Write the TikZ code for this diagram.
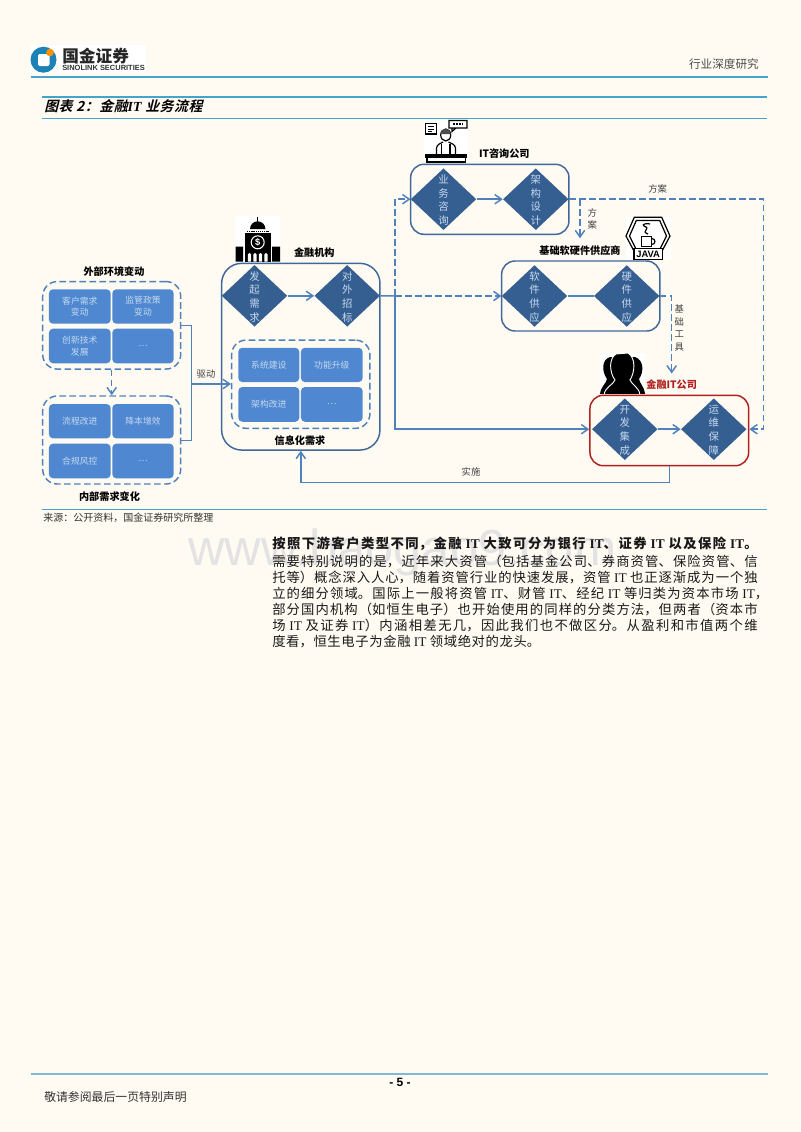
\documentclass[tikz,border=0pt]{standalone}
\usepackage{fontspec}
\setmainfont{Noto Sans CJK SC}
\newfontfamily\latin{Liberation Serif}
\newfontfamily\latinsans{Liberation Sans}
\newfontfamily\slantfont[FakeSlant=0.25,LetterSpace=4]{Noto Sans CJK SC Bold}
\usetikzlibrary{shapes.geometric,arrows.meta}
\XeTeXlinebreaklocale "zh"
\XeTeXlinebreakskip=0pt plus 2pt
\def\px{0.75pt}
\definecolor{pagebg}{HTML}{FFFBF2}
\definecolor{rulecol}{HTML}{45A3CC}
\definecolor{footcol}{HTML}{7FBAD0}
\definecolor{diacol}{HTML}{365F91}
\definecolor{cellcol}{HTML}{4F88D0}
\definecolor{linecol}{HTML}{4F81BD}
\definecolor{boxcol}{HTML}{41689A}
\definecolor{celltext}{HTML}{C5D9F1}
\definecolor{redcol}{HTML}{B02020}
\definecolor{logocol}{HTML}{1B82B5}
\tikzset{
  flowdia/.style={diamond, fill=diacol, inner sep=0pt, minimum width=65.6*\px, minimum height=61.7*\px},
  diatext/.style={align=center, text=celltext, font=\fontsize{7.8}{10.3}\selectfont, inner sep=0pt, yshift=-0.7pt},
  cellbox/.style={rectangle, rounded corners=3pt, fill=cellcol, text=celltext, align=center, inner sep=0pt, font=\fontsize{6.6}{8.8}\selectfont},
  groupbox/.style={rectangle, rounded corners=11pt, draw=linecol, line width=1.1pt, dash pattern=on 5pt off 2.5pt},
  solidbox/.style={rectangle, draw=boxcol, line width=1.1pt},
  plainline/.style={draw=linecol, line width=1.1pt},
  solidline/.style={plainline, -{Straight Barb[length=5pt,width=7pt]}},
  dashline/.style={solidline, dash pattern=on 5pt off 2.5pt},
  headtext/.style={font=\fontsize{7.6}{9}\bfseries\selectfont, inner sep=0pt},
  plaintext/.style={font=\fontsize{7}{9}\selectfont, text=black!75, inner sep=0pt},
  iconline/.style={black, line width=0.9pt},
}
\newcommand{\bodyline}[2][364pt]{{\hsize=#1\parfillskip=0pt\noindent #2\par}}
\newcommand{\IT}{{\latin IT}}
\newcommand{\ITb}{{\latin\bfseries IT}}
\begin{document}
\begin{tikzpicture}[x=\px, y=-\px]
\useasboundingbox (0,0) rectangle (800,1132);
\fill[pagebg] (0,0) rectangle (800,1132);

% watermark
\node (wmark) [anchor=west, inner sep=0pt, text=black!11, font=\latinsans\fontsize{38}{40}\selectfont] at (188,552) {www.baogao9.com};

% page head
\fill[white] (30,45) rectangle (146,73);
\fill[logocol] (43.5,59.7) circle (13);
\fill[white, rounded corners=1.5pt] (38,54) rectangle (49.5,66);
\fill[orange!85!yellow] (50,52.5) circle (3.8);
\node (logocn) [anchor=west, inner sep=0pt, font=\fontsize{12.5}{13}\bfseries\selectfont, text=black!85] at (62,56) {国金证券};
\node (logoen) [anchor=west, inner sep=0pt, font=\latinsans\fontsize{5.6}{6}\bfseries\selectfont, text=black!80] at (62,68) {SINOLINK SECURITIES};
\node (sector) [anchor=east, inner sep=0pt, font=\fontsize{8.7}{10}\selectfont, text=black!70] at (759,64) {行业深度研究};
\draw[rulecol, line width=1pt] (31,77) -- (768,77);
\draw[rulecol, line width=0.8pt] (42,97) -- (767,97);
\draw[rulecol, line width=0.8pt] (42,118.5) -- (767,118.5);
\node (title) [anchor=west, inner sep=0pt, font=\slantfont\fontsize{10.4}{12}\selectfont] at (44,106) {图表 2：金融{\latin\bfseries\itshape IT} 业务流程};

% left groups
\node (envbox) [groupbox, minimum width=138*\px, minimum height=87.5*\px] at (111.7,325.3) {};
\node (reqbox) [groupbox, minimum width=138*\px, minimum height=88*\px] at (111.7,440) {};
\node (envlabel) [headtext] at (114,271.7) {外部环境变动};
\node (reqlabel) [headtext] at (109.5,497) {内部需求变化};
\node (kehu) [cellbox, minimum width=61.7*\px, minimum height=34.4*\px] at (79.8,306.5) {客户需求\\变动};
\node (jianguan) [cellbox, minimum width=61.4*\px, minimum height=34.4*\px] at (143,306.5) {监管政策\\变动};
\node (chuangxin) [cellbox, minimum width=61.7*\px, minimum height=34.6*\px] at (79.8,346) {创新技术\\发展};
\node (dotsa) [cellbox, minimum width=61.4*\px, minimum height=34.6*\px] at (143,346) {…};
\node (liucheng) [cellbox, minimum width=61.7*\px, minimum height=34.3*\px] at (79.8,421.2) {流程改进};
\node (jiangben) [cellbox, minimum width=61.4*\px, minimum height=34.3*\px] at (143,421.2) {降本增效};
\node (hegui) [cellbox, minimum width=61.7*\px, minimum height=34.6*\px] at (79.8,461) {合规风控};
\node (dotsb) [cellbox, minimum width=61.4*\px, minimum height=34.6*\px] at (143,461) {…};

% financial institution
\node (finbox) [solidbox, rounded corners=15pt, minimum width=158.3*\px, minimum height=186.7*\px] at (300.8,356.7) {};
\node (fadia) [flowdia] at (254.5,295.8) {};
\node (zhaodia) [flowdia] at (347.2,295.8) {};
\node at (fadia) [diatext] {发\\起\\需\\求};
\node at (zhaodia) [diatext] {对\\外\\招\\标};
\node (finlabel) [headtext] at (314.3,252.3) {金融机构};
\node (infobox) [groupbox, minimum width=138.3*\px, minimum height=88.3*\px] at (300.8,384.2) {};
\node (xitong) [cellbox, minimum width=61*\px, minimum height=34.3*\px] at (268.8,364.9) {系统建设};
\node (gongneng) [cellbox, minimum width=61.7*\px, minimum height=34.3*\px] at (331.8,364.9) {功能升级};
\node (jiagou) [cellbox, minimum width=61*\px, minimum height=34.7*\px] at (268.8,404.4) {架构改进};
\node (dotsc) [cellbox, minimum width=61.7*\px, minimum height=34.7*\px] at (331.8,404.4) {…};
\node (infolabel) [headtext] at (300,441) {信息化需求};

% consulting
\node (itbox) [solidbox, rounded corners=10pt, minimum width=158.3*\px, minimum height=70*\px] at (489.8,199.3) {};
\node (zixun) [flowdia] at (443.5,199.2) {};
\node (sheji) [flowdia] at (535.8,199.2) {};
\node at (zixun) [diatext] {业\\务\\咨\\询};
\node at (sheji) [diatext] {架\\构\\设\\计};
\node (itlabel) [headtext] at (504.3,153.3) {IT咨询公司};

% suppliers
\node (basebox) [solidbox, rounded corners=10pt, minimum width=158.3*\px, minimum height=70*\px] at (580.8,296) {};
\node (ruan) [flowdia] at (534.5,296) {};
\node (ying) [flowdia] at (626.7,296) {};
\node at (ruan) [diatext] {软\\件\\供\\应};
\node at (ying) [diatext] {硬\\件\\供\\应};
\node (baselabel) [headtext] at (580,250.3) {基础软硬件供应商};

% IT company
\node (redbox) [rectangle, draw=redcol, line width=1.1pt, rounded corners=10pt, minimum width=158.7*\px, minimum height=70.4*\px] at (669.3,430.5) {};
\node (kaifa) [flowdia] at (624.8,429.2) {};
\node (yunwei) [flowdia] at (713.8,429.2) {};
\node at (kaifa) [diatext] {开\\发\\集\\成};
\node at (yunwei) [diatext] {运\\维\\保\\障};
\node (redlabel) [headtext, text=redcol] at (671.7,384.7) {金融IT公司};

% side labels
\node (qudong) [plaintext] at (206,374) {驱动};
\node (shishi) [plaintext] at (471,471.7) {实施};
\node (fanga) [plaintext] at (657.7,189.3) {方案};
\node (fangb) [plaintext, align=center, font=\fontsize{7}{9.3}\selectfont] at (592.3,219) {方\\案};
\node (gongju) [plaintext, align=center, font=\fontsize{7}{9.4}\selectfont] at (679.3,328) {基\\础\\工\\具};

% connectors
\coordinate (drivein) at (191.7,384);
\draw[plainline] (envbox.east |- 0,325.7) -| (drivein);
\draw[plainline] (reqbox.east |- 0,440.3) -| (drivein);
\draw[solidline] (drivein) -- (infobox.west |- drivein);
\draw[dashline] (envbox.south -| 111.7,0) -- (reqbox.north -| 111.7,0);
\draw[solidline] (fadia.east) -- (zhaodia.west);
\draw[solidline] (zixun.east) -- (sheji.west);
\draw[plainline] (ruan.east) -- (ying.west);
\draw[solidline] (kaifa.east) -- (yunwei.west);
\coordinate (split) at (395,296);
\draw[plainline] (zhaodia.east) -- (split);
\draw[solidline] (split) |- (redbox.west |- kaifa);
\draw[dashline] (split) -- (ruan.west);
\draw[dashline] (split) |- (zixun.west);
\coordinate (fangturn) at (580,199.2);
\coordinate (fangend) at (580,238.3);
\draw[dashline] (fangturn) -- (fangend);
\coordinate (rightturn) at (763.3,429.2);
\draw[dashline] (sheji.east) -| (rightturn) -- (redbox.east |- rightturn);
\coordinate (toolturn) at (671.7,296);
\coordinate (toolend) at (671.7,373.5);
\draw[dashline] (ying.east) -- (toolturn) -- (toolend);
\draw[solidline] (redbox.south) |- (finbox.south |- 0,482.3) -- (finbox.south);

% bank icon
\fill[white] (235,216) rectangle (280,262);
\fill[black] (235.5,246.7) rectangle (243,261.7) (272,246.7) rectangle (280,261.7);
\fill[black] (245,233) rectangle (270.7,261.7);
\fill[black] (250,229) arc[start angle=180, end angle=360, radius=7.7] -- cycle;
\fill[black] (257.2,216.7) rectangle (258.3,222);
\draw[black, line width=0.8pt, dash pattern=on 1pt off 0.6pt] (247,231.5) -- (268.5,231.5);
\draw[white, line width=0.8pt] (257.7,242.3) circle (6.5);
\node (dollar) [inner sep=0pt, text=white, font=\latinsans\fontsize{7}{7}\bfseries\selectfont] at (257.7,242.3) {\$};
\foreach \archx in {249.5,255,260.5,266}
  \fill[white] (\archx-1.7,261.7) -- (\archx-1.7,254.5) arc[start angle=180, end angle=360, radius=1.7] -- (\archx+1.7,261.7) -- cycle;

% consultant icon
\fill[white] (424,120) rectangle (468,162);
\draw[iconline] (425.5,123.5) rectangle (436.5,134);
\draw[iconline, line width=0.6pt] (428,126.5) -- (434,126.5) (428,129) -- (434,129) (428,131.5) -- (432,131.5);
\draw[iconline] (449,120.5) rectangle (467,128) (452,128) -- (452,131.5) -- (456,128);
\draw[black, line width=1.3pt, dash pattern=on 1.3pt off 1pt] (453,124.3) -- (463,124.3);
\draw[iconline] (445.7,135) ellipse (5 and 6);
\fill[black!70] (440.7,134) .. controls (441,127) and (450.5,127) .. (450.7,134) -- cycle;
\draw[iconline] (436.5,154) -- (436.5,148) .. controls (437,144) and (441,143.5) .. (443,142) (448.5,142) .. controls (451,143.5) and (455,144) .. (455.5,148) -- (455.5,154);
\draw[iconline] (441.5,144) -- (441.5,154) (450,144) -- (450,154);
\fill[black] (425,154.3) rectangle (467,157.7);
\draw[iconline] (427,157.7) rectangle (465.5,162);

% java icon
\fill[white] (625.7,216.7) rectangle (670.7,260);
\draw[iconline] (634.3,217.3) -- (661.7,217.3) -- (670,236) -- (661,253) -- (635,253) -- (626,236) -- cycle;
\draw[iconline] (636.3,220.5) -- (659.7,220.5) -- (666.5,236) -- (659.5,250) -- (636.5,250) -- (629.5,236) -- cycle;
\draw[iconline, fill=white] (641.7,236.7) rectangle (651.7,246.7);
\draw[iconline] (651.7,238.5) .. controls (656,238.5) and (656,244.5) .. (651.7,244.5);
\draw[iconline] (648,234) .. controls (640,231) and (652,229) .. (644,226) .. controls (641,224) and (648,223) .. (650,224);
\draw[iconline, fill=white] (634,248.3) rectangle (662.3,259.3);
\node (javatext) [inner sep=0pt, font=\latinsans\fontsize{7}{7}\bfseries\selectfont] at (648.2,254) {JAVA};

% staff icon
\fill[white] (600,353) rectangle (645,393);
\begin{scope}
\clip (600,352) rectangle (646,393);
\fill[black] (600,394) .. controls (601,386) and (606,384) .. (607,379) .. controls (602,372) and (601,360) .. (610,357) -- (635,357) .. controls (644,360) and (644,372) .. (639,379) .. controls (640,384) and (644,386) .. (645,394) -- cycle;
\filldraw[black, draw=white, line width=0.7pt] (604,395) .. controls (605,387) and (613,385) .. (615,380) .. controls (609,372) and (609,358) .. (616,354) -- (628,353) .. controls (636,358) and (635,372) .. (630,380) .. controls (632,385) and (639,387) .. (640,395) -- cycle;
\end{scope}

% caption rule and source
\draw[rulecol, line width=0.9pt] (42,509.5) -- (767,509.5);
\node (source) [anchor=west, inner sep=0pt, font=\fontsize{7.5}{9}\selectfont, text=black!80] at (43,518) {来源：公开资料，国金证券研究所整理};

% body text
\node (bodytext) [anchor=north west, inner sep=0pt, font=\fontsize{10}{12}\selectfont, text=black!90] at (272,537) {\vbox{\hsize=372pt\baselineskip=12.05pt
\bodyline{\bfseries 按照下游客户类型不同，金融 \ITb{} 大致可分为银行 \ITb{}、证券 \ITb{} 以及保险 \ITb{}。}
\vskip1.2pt
\bodyline{需要特别说明的是，近年来大资管（包括基金公司、券商资管、保险资管、信}
\bodyline{托等）概念深入人心，随着资管行业的快速发展，资管 \IT{} 也正逐渐成为一个独}
\bodyline[372pt]{立的细分领域。国际上一般将资管 \IT{}、财管 \IT{}、经纪 \IT{} 等归类为资本市场 \IT{}，}
\bodyline{部分国内机构（如恒生电子）也开始使用的同样的分类方法，但两者（资本市}
\bodyline{场 \IT{} 及证券 \IT{}）内涵相差无几，因此我们也不做区分。从盈利和市值两个维}
\bodyline[201pt]{度看，恒生电子为金融 \IT{} 领域绝对的龙头。}
}};

% page foot
\draw[footcol, line width=1pt] (31,1074) -- (768,1074);
\node (pageno) [inner sep=0pt, font=\latinsans\fontsize{9}{10}\bfseries\selectfont] at (400,1082.5) {- 5 -};
\node (notice) [anchor=west, inner sep=0pt, font=\fontsize{8.9}{10}\selectfont, text=black!80] at (44,1097) {敬请参阅最后一页特别声明};
\end{tikzpicture}
\end{document}
